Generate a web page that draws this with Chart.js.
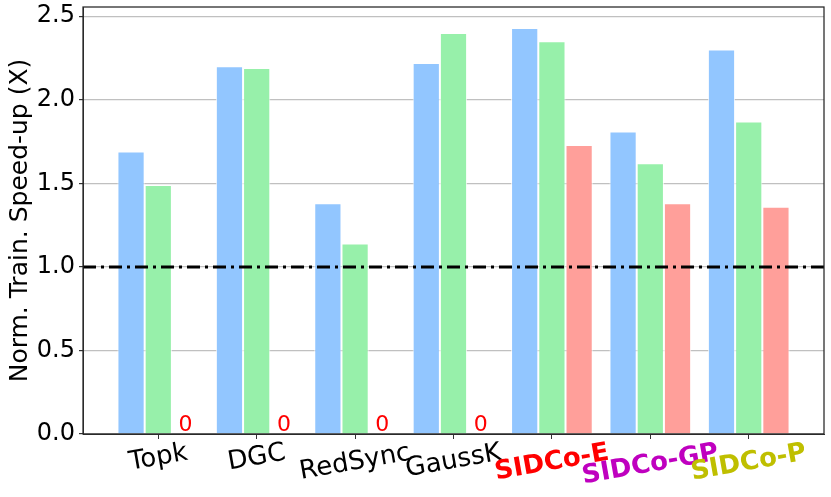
<!DOCTYPE html>
<html>
<head>
<meta charset="utf-8">
<script src="https://cdn.jsdelivr.net/npm/chart.js@4.4.0/dist/chart.umd.min.js"></script>
<style>
  html, body { margin: 0; padding: 0; background: #fff; }
  #wrap { width: 831px; height: 497px; }
</style>
</head>
<body>
<div id="wrap"><canvas id="chart"></canvas></div>
<script>
// values
const categories = ['Topk', 'DGC', 'RedSync', 'GaussK', 'SIDCo-E', 'SIDCo-GP', 'SIDCo-P'];
const labelColors = ['#000000', '#000000', '#000000', '#000000', '#ff0000', '#bf00bf', '#bfbf00'];
const labelBold = [false, false, false, false, true, true, true];
const seriesBlue = [1.69, 2.20, 1.38, 2.22, 2.43, 1.81, 2.30];
const seriesGreen = [1.49, 2.19, 1.14, 2.40, 2.35, 1.62, 1.87];
const seriesRed = [0, 0, 0, 0, 1.73, 1.38, 1.36];
const baseline = 1.0;
const yMin = 0, yMax = 2.555, yStep = 0.5;
const xMin = -0.765, xMax = categories.length - 1 + 0.765;

const FONT = "'DejaVu Sans', sans-serif";

function toPoints(arr) {
    return arr.map((v, i) => ({ x: i, y: v }));
}

// zero-height bars get no edge so they don't paint over the axis
const edgeWidth = ctx => (ctx.raw && ctx.raw.y === 0 ? 0 : 1);

// frame, rotated category labels and the "0" markers
const extras = {
    id: 'extras',
    afterDatasetsDraw(chart) {
        const { ctx, chartArea: a, scales } = chart;
        ctx.save();

        // "0" above the empty red bars
        const meta = chart.getDatasetMeta(2);
        ctx.fillStyle = '#ff0000';
        ctx.font = '22px ' + FONT;
        ctx.textAlign = 'center';
        ctx.textBaseline = 'alphabetic';
        meta.data.forEach((el, i) => {
            if (seriesRed[i] === 0) ctx.fillText('0', el.x, scales.y.getPixelForValue(0) - 3);
        });

        // box around the plot
        ctx.strokeStyle = '#262626';
        ctx.lineWidth = 1.25;
        ctx.strokeRect(a.left, a.top, a.right - a.left, a.bottom - a.top);

        // category labels, rotated 10 degrees, top of their box under the tick
        const rot = -10 * Math.PI / 180;
        const size = 26;
        categories.forEach((name, i) => {
            ctx.font = (labelBold[i] ? 'bold ' : '') + size + 'px ' + FONT;
            const w = ctx.measureText(name).width;
            const h = size * 1.0;
            const boxH = w * Math.sin(-rot) + h * Math.cos(rot);
            const cx = scales.x.getPixelForValue(i);
            const cy = a.bottom + 6 + boxH / 2;
            ctx.save();
            ctx.translate(cx, cy);
            ctx.rotate(rot);
            ctx.fillStyle = labelColors[i];
            ctx.textAlign = 'center';
            ctx.textBaseline = 'middle';
            ctx.fillText(name, 0, 0);
            ctx.restore();
        });
        ctx.restore();
    }
};

new Chart(document.getElementById('chart'), {
    type: 'bar',
    data: {
        datasets: [
            {
                label: 'blue',
                data: toPoints(seriesBlue),
                backgroundColor: '#92c6ff',
                borderColor: 'rgba(255,255,255,0.8)',
                borderWidth: edgeWidth,
                order: 1,
            },
            {
                label: 'green',
                data: toPoints(seriesGreen),
                backgroundColor: '#97f0aa',
                borderColor: 'rgba(255,255,255,0.8)',
                borderWidth: edgeWidth,
                order: 1,
            },
            {
                label: 'red',
                data: toPoints(seriesRed),
                backgroundColor: '#ff9f9a',
                borderColor: 'rgba(255,255,255,0.8)',
                borderWidth: edgeWidth,
                order: 1,
            },
            {
                type: 'line',
                label: 'baseline',
                data: [{ x: xMin, y: baseline }, { x: xMax, y: baseline }],
                borderColor: '#000000',
                borderWidth: 3,
                borderDash: [13, 5, 3, 5],
                pointRadius: 0,
                order: 0,
            },
        ],
    },
    options: {
        responsive: true,
        maintainAspectRatio: false,
        animation: false,
        layout: { padding: { top: 7, right: 7, left: 0, bottom: 0 } },
        categoryPercentage: 0.83,
        barPercentage: 1.0,
        plugins: {
            legend: { display: false },
            tooltip: { enabled: false },
        },
        scales: {
            x: {
                type: 'linear',
                min: xMin,
                max: xMax,
                offset: false,
                afterFit: s => { s.height = 63; },
                grid: {
                    display: true,
                    offset: false,
                    drawOnChartArea: false,
                    drawTicks: true,
                    tickLength: 5,
                    tickColor: '#333333',
                },
                border: { display: true, color: '#333333', width: 1 },
                ticks: {
                    stepSize: 1,
                    includeBounds: false,
                    callback: () => '',
                },
            },
            y: {
                min: yMin,
                max: yMax,
                afterFit: s => { s.width = 83; s.paddingTop = 0; s.paddingBottom = 0; },
                grid: {
                    color: '#c0c0c0',
                    lineWidth: 1.2,
                    drawTicks: true,
                    tickLength: 4,
                    tickColor: '#333333',
                },
                border: { display: true, color: '#333333', width: 1 },
                ticks: {
                    stepSize: yStep,
                    includeBounds: false,
                    padding: 4,
                    color: '#000000',
                    font: { family: FONT, size: 24, lineHeight: 0.4 },
                    callback: v => v.toFixed(1),
                },
                title: {
                    display: true,
                    text: 'Norm. Train. Speed-up (X)',
                    color: '#000000',
                    font: { family: FONT, size: 25 },
                    padding: { top: 5, bottom: 0 },
                },
            },
        },
    },
    plugins: [extras],
});
</script>
</body>
</html>
